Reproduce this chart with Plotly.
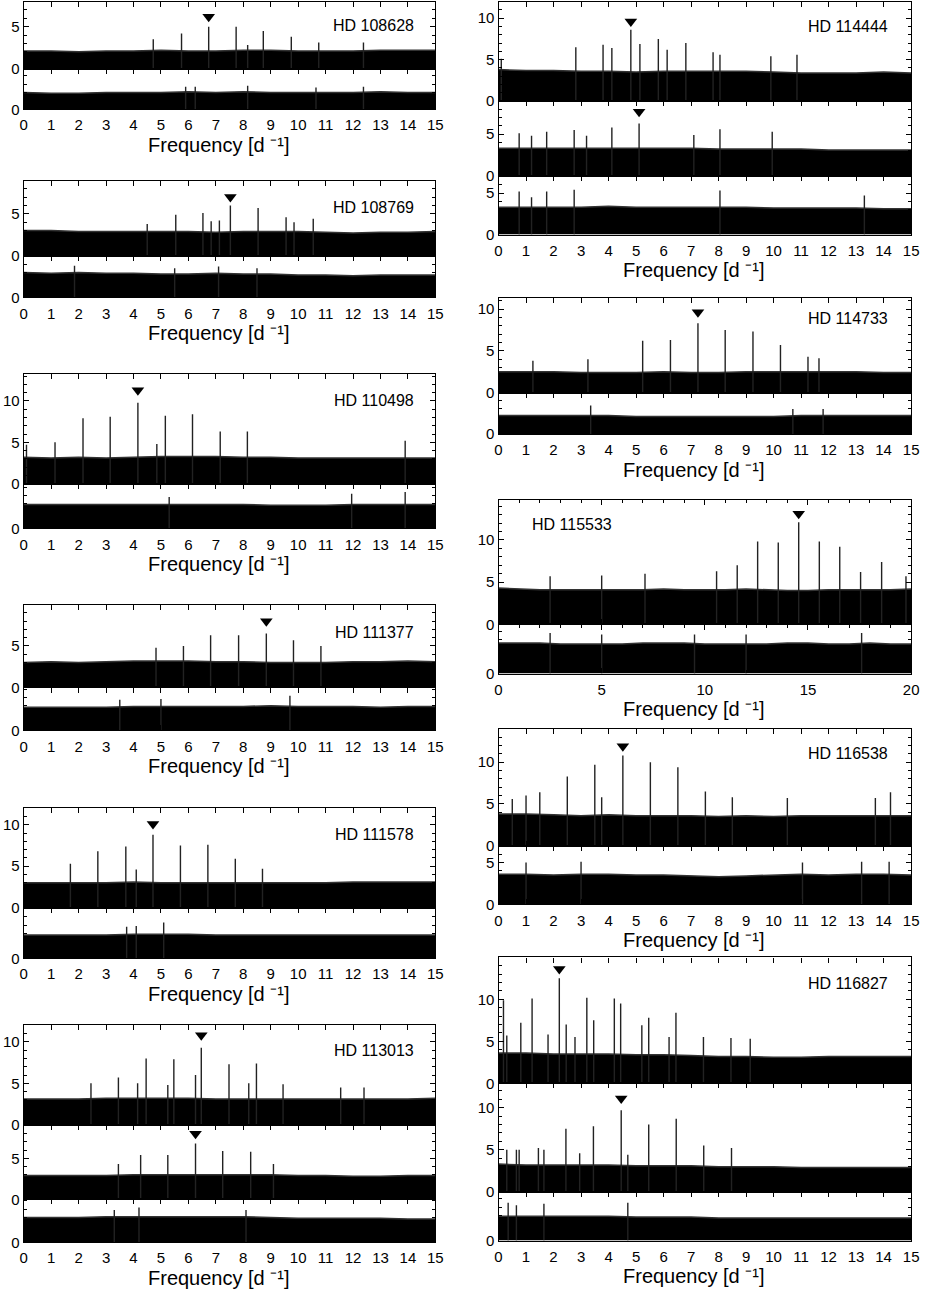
import plotly.graph_objects as go

W, H = 929, 1296

# ---------------- data ----------------
freq15 = list(range(16))
freq20 = list(range(21))

# noise envelope levels (read at integer frequencies)
n_108628_u = [2.1, 2.1, 2.0, 2.1, 2.1, 2.2, 2.1, 2.1, 2.2, 2.2, 2.1, 2.1, 2.1, 2.2, 2.2, 2.2]
n_108628_l = [2.0, 1.9, 1.9, 2.0, 2.0, 2.0, 2.1, 2.0, 2.1, 2.0, 2.0, 2.0, 2.0, 2.1, 2.0, 2.0]
n_108769_u = [3.0, 3.0, 2.9, 2.9, 2.9, 2.9, 2.9, 2.8, 2.9, 2.9, 2.9, 2.8, 2.7, 2.8, 2.8, 2.9]
n_108769_l = [3.0, 2.9, 3.0, 2.9, 2.9, 2.8, 2.8, 2.9, 2.8, 2.8, 2.7, 2.7, 2.6, 2.7, 2.7, 2.7]
n_110498_u = [3.2, 3.1, 3.2, 3.1, 3.2, 3.3, 3.3, 3.3, 3.2, 3.2, 3.1, 3.1, 3.1, 3.1, 3.1, 3.1]
n_110498_l = [2.9, 2.9, 2.9, 2.9, 2.9, 2.9, 2.9, 2.9, 2.9, 2.8, 2.8, 2.8, 2.9, 2.9, 2.9, 2.9]
n_111377_u = [3.0, 3.1, 3.0, 3.1, 3.2, 3.2, 3.2, 3.1, 3.1, 3.0, 3.0, 3.0, 3.1, 3.1, 3.2, 3.1]
n_111377_l = [2.8, 2.8, 2.8, 2.8, 2.9, 2.9, 2.9, 2.9, 2.9, 3.0, 2.9, 2.9, 2.9, 2.8, 2.9, 2.9]
n_111578_u = [3.0, 3.0, 3.0, 3.0, 3.1, 3.0, 3.0, 3.0, 3.0, 3.0, 3.0, 3.0, 3.1, 3.1, 3.1, 3.1]
n_111578_l = [2.8, 2.8, 2.8, 2.8, 2.9, 2.9, 2.9, 2.8, 2.8, 2.8, 2.8, 2.8, 2.8, 2.8, 2.8, 2.8]
n_113013_u = [3.1, 3.1, 3.1, 3.2, 3.2, 3.2, 3.2, 3.1, 3.1, 3.1, 3.1, 3.1, 3.1, 3.1, 3.1, 3.2]
n_113013_m = [2.9, 2.9, 2.9, 2.9, 3.0, 3.0, 3.0, 3.0, 3.0, 3.0, 2.9, 2.9, 2.8, 2.8, 2.9, 2.9]
n_113013_b = [3.0, 3.0, 3.0, 3.1, 3.1, 3.1, 3.1, 3.1, 3.1, 3.0, 2.9, 2.9, 2.9, 2.9, 2.8, 2.8]
n_114444_u = [3.8, 3.7, 3.7, 3.6, 3.6, 3.5, 3.6, 3.6, 3.6, 3.6, 3.5, 3.4, 3.4, 3.4, 3.5, 3.4]
n_114444_m = [3.3, 3.3, 3.3, 3.3, 3.3, 3.3, 3.3, 3.3, 3.2, 3.2, 3.2, 3.2, 3.1, 3.1, 3.1, 3.1]
n_114444_b = [3.3, 3.3, 3.3, 3.3, 3.4, 3.3, 3.3, 3.3, 3.3, 3.3, 3.2, 3.2, 3.2, 3.2, 3.1, 3.1]
n_114733_u = [2.5, 2.5, 2.5, 2.4, 2.4, 2.4, 2.5, 2.4, 2.4, 2.5, 2.5, 2.5, 2.5, 2.5, 2.4, 2.4]
n_114733_l = [2.2, 2.2, 2.2, 2.2, 2.2, 2.1, 2.1, 2.1, 2.1, 2.1, 2.1, 2.2, 2.2, 2.2, 2.2, 2.2]
n_115533_u = [4.3, 4.2, 4.1, 4.1, 4.1, 4.1, 4.1, 4.1, 4.2, 4.1, 4.1, 4.1, 4.2, 4.1, 4.0, 4.0, 4.1, 4.1, 4.1, 4.1, 4.2]
n_115533_l = [3.6, 3.6, 3.6, 3.5, 3.5, 3.5, 3.5, 3.6, 3.6, 3.6, 3.5, 3.5, 3.5, 3.5, 3.6, 3.6, 3.5, 3.5, 3.6, 3.5, 3.5]
n_116538_u = [3.8, 3.8, 3.7, 3.6, 3.7, 3.6, 3.6, 3.6, 3.5, 3.6, 3.5, 3.6, 3.6, 3.6, 3.6, 3.6]
n_116538_l = [3.6, 3.6, 3.5, 3.6, 3.6, 3.5, 3.5, 3.4, 3.3, 3.4, 3.5, 3.6, 3.5, 3.6, 3.6, 3.5]
n_116827_u = [3.6, 3.6, 3.5, 3.5, 3.5, 3.4, 3.4, 3.3, 3.2, 3.2, 3.1, 3.1, 3.2, 3.2, 3.2, 3.2]
n_116827_m = [3.3, 3.2, 3.2, 3.2, 3.2, 3.1, 3.1, 3.1, 3.0, 3.0, 3.0, 2.9, 2.9, 2.9, 2.9, 2.9]
n_116827_b = [2.9, 2.9, 2.9, 2.9, 2.9, 2.8, 2.8, 2.8, 2.7, 2.7, 2.7, 2.7, 2.7, 2.7, 2.7, 2.7]

# peaks (frequency, amplitude)
p_108628_u_f = [4.72, 5.75, 6.74, 7.74, 8.16, 8.73, 9.75, 10.75, 12.38]
p_108628_u_a = [3.5, 4.2, 5.0, 5.0, 2.8, 4.5, 3.8, 3.1, 3.1]
p_108628_l_f = [5.9, 6.25, 8.16, 10.65, 12.38]
p_108628_l_a = [2.7, 2.7, 2.8, 2.6, 2.7]
p_108769_u_f = [4.5, 5.54, 6.53, 6.83, 7.13, 7.53, 8.54, 9.56, 9.85, 10.55]
p_108769_u_a = [3.8, 4.9, 5.1, 4.1, 4.2, 6.0, 5.7, 4.6, 4.0, 4.4]
p_108769_l_f = [1.85, 5.5, 7.1, 8.5]
p_108769_l_a = [3.8, 3.5, 3.7, 3.5]
p_110498_u_f = [0.1, 1.14, 2.16, 3.15, 4.16, 4.85, 5.16, 6.15, 7.16, 8.15, 13.9]
p_110498_u_a = [4.7, 5.0, 7.9, 8.1, 9.8, 4.8, 8.2, 8.4, 6.3, 6.3, 5.2]
p_110498_l_f = [5.3, 11.95, 13.9]
p_110498_l_a = [3.8, 4.2, 4.4]
p_111377_u_f = [4.82, 5.82, 6.81, 7.83, 8.84, 9.83, 10.83]
p_111377_u_a = [4.8, 5.0, 6.3, 6.3, 6.5, 5.7, 5.0]
p_111377_l_f = [3.5, 5.0, 9.7]
p_111377_l_a = [3.7, 3.8, 4.2]
p_111578_u_f = [1.70, 2.70, 3.72, 4.10, 4.71, 5.71, 6.71, 7.71, 8.7]
p_111578_u_a = [5.3, 6.8, 7.4, 4.6, 8.8, 7.5, 7.6, 5.9, 4.7]
p_111578_l_f = [3.75, 4.1, 5.1]
p_111578_l_a = [3.8, 3.9, 4.3]
p_113013_u_f = [2.45, 3.45, 4.15, 4.46, 5.25, 5.47, 6.26, 6.47, 7.48, 8.2, 8.48, 9.45, 11.55, 12.4]
p_113013_u_a = [5.0, 5.7, 5.0, 8.0, 4.8, 7.9, 6.0, 9.3, 7.3, 5.0, 7.4, 4.9, 4.5, 4.5]
p_113013_m_f = [3.45, 4.26, 5.25, 6.26, 7.25, 8.27, 9.1]
p_113013_m_a = [4.3, 5.4, 5.4, 6.8, 5.9, 5.8, 4.3]
p_113013_b_f = [3.3, 4.2, 8.1]
p_113013_b_a = [3.9, 4.2, 3.9]
p_114444_u_f = [0.1, 2.81, 3.80, 4.12, 4.81, 5.14, 5.81, 6.13, 6.81, 7.8, 8.05, 9.9, 10.85]
p_114444_u_a = [5.1, 6.5, 6.8, 6.4, 8.6, 6.9, 7.5, 6.2, 7.0, 5.9, 5.6, 5.4, 5.6]
p_114444_m_f = [0.75, 1.2, 1.75, 2.75, 3.2, 4.12, 5.11, 7.1, 8.05, 9.95]
p_114444_m_a = [5.1, 4.8, 5.3, 5.5, 4.8, 5.8, 6.3, 4.9, 5.6, 5.3]
p_114444_b_f = [0.75, 1.2, 1.75, 2.75, 8.05, 13.3]
p_114444_b_a = [5.2, 4.5, 5.2, 5.4, 5.3, 4.7]
p_114733_u_f = [1.25, 3.25, 5.24, 6.25, 7.25, 8.24, 9.25, 10.25, 11.25, 11.65]
p_114733_u_a = [3.8, 4.0, 6.2, 6.3, 8.3, 7.5, 7.3, 5.7, 4.3, 4.1]
p_114733_l_f = [3.35, 10.7, 11.8]
p_114733_l_a = [3.4, 3.0, 3.0]
p_115533_u_f = [2.5, 5.0, 7.1, 10.57, 11.57, 12.56, 13.56, 14.55, 15.55, 16.54, 17.55, 18.57, 19.75]
p_115533_u_a = [5.7, 5.8, 6.0, 6.3, 7.0, 9.8, 9.7, 12.1, 9.8, 9.2, 6.2, 7.4, 5.7]
p_115533_l_f = [2.5, 5.0, 9.5, 12.0, 17.6]
p_115533_l_a = [4.8, 4.6, 4.6, 4.6, 4.8]
p_116538_u_f = [0.5, 1.0, 1.5, 2.50, 3.50, 3.75, 4.52, 5.52, 6.52, 7.52, 8.5, 10.5, 13.7, 14.25]
p_116538_u_a = [5.6, 6.0, 6.4, 8.3, 9.7, 5.8, 10.8, 10.0, 9.4, 6.5, 5.8, 5.7, 5.7, 6.4]
p_116538_l_f = [1.0, 3.0, 11.05, 13.2, 14.2]
p_116538_l_a = [5.0, 5.1, 5.0, 5.1, 5.1]
p_116827_u_f = [0.18, 0.3, 0.81, 1.22, 1.80, 2.21, 2.46, 2.78, 3.21, 3.46, 4.21, 4.44, 5.21, 5.46, 6.20, 6.45, 7.45, 8.45, 9.15]
p_116827_u_a = [9.9, 5.7, 7.2, 10.1, 5.8, 12.5, 7.0, 5.5, 10.2, 7.5, 10.1, 9.5, 6.9, 7.8, 5.5, 8.4, 5.5, 5.4, 5.3]
p_116827_m_f = [0.3, 0.65, 0.75, 1.45, 1.65, 2.45, 2.95, 3.45, 4.46, 4.7, 5.46, 6.46, 7.46, 8.47]
p_116827_m_a = [5.0, 5.0, 5.0, 5.2, 5.0, 7.5, 4.6, 7.8, 9.7, 4.4, 8.0, 8.7, 5.5, 5.2]
p_116827_b_f = [0.35, 0.65, 1.65, 4.7]
p_116827_b_a = [4.5, 4.2, 4.4, 4.5]

# marked (triangle) frequencies and marker heights
tri_108628 = (6.74, 6.2)
tri_108769 = (7.53, 7.0)
tri_110498 = (4.16, 11.3)
tri_111377 = (8.84, 8.0)
tri_111578 = (4.71, 10.1)
tri_113013_u = (6.47, 10.8)
tri_113013_m = (6.26, 8.0)
tri_114444_u = (4.81, 9.6)
tri_114444_m = (5.11, 7.7)
tri_114733 = (7.25, 9.6)
tri_115533 = (14.55, 13.1)
tri_116538 = (4.52, 11.9)
tri_116827_u = (2.21, 13.6)
tri_116827_m = (4.46, 11.1)

star_names = ["HD 108628", "HD 108769", "HD 110498", "HD 111377", "HD 111578", "HD 113013",
              "HD 114444", "HD 114733", "HD 115533", "HD 116538", "HD 116827"]
x_title = "Frequency [d \u207b\u00b9]"

# ---------------- layout (pixels) ----------------
LX = (20, 437)
RX = (501, 919)
FONT = "Liberation Sans, Arial, Helvetica, sans-serif"

panels = [
    dict(col=LX, xmax=15, name=star_names[0], lab=(417, 26, "right"), subs=[
        (2, 69, 7.95, [0, 5], n_108628_u, p_108628_u_f, p_108628_u_a, tri_108628),
        (69, 110, 4.85, [0], n_108628_l, p_108628_l_f, p_108628_l_a, None)]),
    dict(col=LX, xmax=15, name=star_names[1], lab=(417, 209, "right"), subs=[
        (182.3, 257.3, 8.9, [0, 5], n_108769_u, p_108769_u_f, p_108769_u_a, tri_108769),
        (257.3, 299.3, 5.0, [0], n_108769_l, p_108769_l_f, p_108769_l_a, None)]),
    dict(col=LX, xmax=15, name=star_names[2], lab=(417, 403, "right"), subs=[
        (376, 486.7, 13.3, [0, 5, 10], n_110498_u, p_110498_u_f, p_110498_u_a, tri_110498),
        (486.7, 531.7, 5.4, [0], n_110498_l, p_110498_l_f, p_110498_l_a, None)]),
    dict(col=LX, xmax=15, name=star_names[3], lab=(417, 636, "right"), subs=[
        (608.3, 691.7, 10.0, [0, 5], n_111377_u, p_111377_u_f, p_111377_u_a, tri_111377),
        (691.7, 735, 5.2, [0], n_111377_l, p_111377_l_f, p_111377_l_a, None)]),
    dict(col=LX, xmax=15, name=star_names[4], lab=(417, 840, "right"), subs=[
        (813.3, 913.3, 12.0, [0, 5, 10], n_111578_u, p_111578_u_f, p_111578_u_a, tri_111578),
        (913.3, 964.3, 6.1, [0], n_111578_l, p_111578_l_f, p_111578_l_a, None)]),
    dict(col=LX, xmax=15, name=star_names[5], lab=(417, 1057, "right"), subs=[
        (1031.7, 1131.7, 12.0, [0, 5, 10], n_113013_u, p_113013_u_f, p_113013_u_a, tri_113013_u),
        (1131.7, 1206.7, 9.1, [0, 5], n_113013_m, p_113013_m_f, p_113013_m_a, tri_113013_m),
        (1206.7, 1250, 5.2, [0], n_113013_b, p_113013_b_f, p_113013_b_a, None)]),
    dict(col=RX, xmax=15, name=star_names[6], lab=(898, 27, "right"), subs=[
        (1.7, 101.7, 12.0, [0, 5, 10], n_114444_u, p_114444_u_f, p_114444_u_a, tri_114444_u),
        (101.7, 176.7, 9.0, [0, 5], n_114444_m, p_114444_m_f, p_114444_m_a, tri_114444_m),
        (176.7, 236, 7.1, [0, 5], n_114444_b, p_114444_b_f, p_114444_b_a, None)]),
    dict(col=RX, xmax=15, name=star_names[7], lab=(898, 320, "right"), subs=[
        (300, 395, 11.3, [0, 5, 10], n_114733_u, p_114733_u_f, p_114733_u_a, tri_114733),
        (395, 436.7, 4.95, [0], n_114733_l, p_114733_l_f, p_114733_l_a, None)]),
    dict(col=RX, xmax=20, name=star_names[8], lab=(533, 528, "left"), subs=[
        (503.3, 628.3, 14.7, [0, 5, 10], n_115533_u, p_115533_u_f, p_115533_u_a, tri_115533),
        (628.3, 677.7, 5.8, [0], n_115533_l, p_115533_l_f, p_115533_l_a, None)]),
    dict(col=RX, xmax=15, name=star_names[9], lab=(898, 758, "right"), subs=[
        (733.3, 851, 14.0, [0, 5, 10], n_116538_u, p_116538_u_f, p_116538_u_a, tri_116538),
        (851, 910, 7.0, [0, 5], n_116538_l, p_116538_l_f, p_116538_l_a, None)]),
    dict(col=RX, xmax=15, name=star_names[10], lab=(898, 990, "right"), subs=[
        (963.3, 1090, 15.0, [0, 5, 10], n_116827_u, p_116827_u_f, p_116827_u_a, tri_116827_u),
        (1090, 1199.3, 12.9, [0, 5, 10], n_116827_m, p_116827_m_f, p_116827_m_a, tri_116827_m),
        (1199.3, 1248.3, 5.8, [0], n_116827_b, p_116827_b_f, p_116827_b_a, None)]),
]

fig = go.Figure()
layout = {}
annotations = []
idx = 0
for pan in panels:
    x0, x1 = pan["col"]
    xmax = pan["xmax"]
    freqs = freq20 if xmax == 20 else freq15
    nsub = len(pan["subs"])
    for k, (t, b, ymax, ylabs, noise, pf, pa, tri) in enumerate(pan["subs"]):
        idx += 1
        sfx = "" if idx == 1 else str(idx)
        xa, ya = "x" + sfx, "y" + sfx
        last = (k == nsub - 1)
        fig.add_trace(go.Scatter(x=freqs, y=noise, mode="lines", fill="tozeroy",
                                 fillcolor="black", line=dict(color="#333333", width=1.5),
                                 xaxis=xa, yaxis=ya, hoverinfo="skip"))
        lx, ly = [], []
        for f, a in zip(pf, pa):
            lx += [f, f, None]
            ly += [0, a, None]
        fig.add_trace(go.Scatter(x=lx, y=ly, mode="lines",
                                 line=dict(color="#222222", width=1.4),
                                 xaxis=xa, yaxis=ya, hoverinfo="skip"))
        if tri is not None:
            fig.add_trace(go.Scatter(x=[tri[0]], y=[tri[1]], mode="markers",
                                     marker=dict(symbol="triangle-down", size=11, color="black"),
                                     xaxis=xa, yaxis=ya, cliponaxis=False, hoverinfo="skip"))
        xkw = dict(domain=[x0 / W, x1 / W], range=[0, xmax], anchor=ya,
                   showline=True, linecolor="black", linewidth=1.3, mirror="ticks",
                   ticks="inside", ticklen=5, tickwidth=1.2, tickcolor="black",
                   showgrid=False, zeroline=False, showticklabels=last,
                   ticklabeloverflow="allow", ticklabelstandoff=2,
                   tickfont=dict(family=FONT, size=15, color="black"))
        if xmax == 20:
            xkw.update(tickmode="linear", tick0=0, dtick=5,
                       minor=dict(tickmode="linear", tick0=0, dtick=1, ticks="inside",
                                  ticklen=3, tickcolor="black", tickwidth=1))
        else:
            xkw.update(tickmode="linear", tick0=0, dtick=1)
        ykw = dict(domain=[1 - b / H, 1 - t / H], range=[0, ymax], anchor=xa,
                   showline=True, linecolor="black", linewidth=1.3, mirror="ticks",
                   ticks="inside", ticklen=5, tickwidth=1.2, tickcolor="black",
                   tickmode="array", tickvals=ylabs, ticktext=[str(v) for v in ylabs],
                   showgrid=False, zeroline=False,
                   tickfont=dict(family=FONT, size=15, color="black"),
                   minor=dict(tickmode="linear", tick0=0, dtick=1, ticks="inside",
                              ticklen=3, tickcolor="black", tickwidth=1))
        layout["xaxis" + sfx] = xkw
        layout["yaxis" + sfx] = ykw
        if last:
            annotations.append(dict(text=x_title, xref="paper", yref="paper",
                                    x=((x0 + x1) / 2 - 11) / W, y=1 - (b + 36) / H,
                                    xanchor="center", yanchor="middle", showarrow=False,
                                    font=dict(family=FONT, size=20, color="black")))
    lxp, lyp, anc = pan["lab"]
    annotations.append(dict(text=pan["name"], xref="paper", yref="paper",
                            x=lxp / W, y=1 - lyp / H, xanchor=anc, yanchor="middle",
                            showarrow=False, font=dict(family=FONT, size=16, color="black")))

fig.update_layout(**layout)
fig.update_layout(width=W, height=H, margin=dict(l=0, r=0, t=0, b=0),
                  paper_bgcolor="white", plot_bgcolor="white", showlegend=False,
                  annotations=annotations)
fig.write_html("out.html", config={"displayModeBar": False},
               post_script="document.body.style.margin='0';document.body.style.overflow='hidden';")
